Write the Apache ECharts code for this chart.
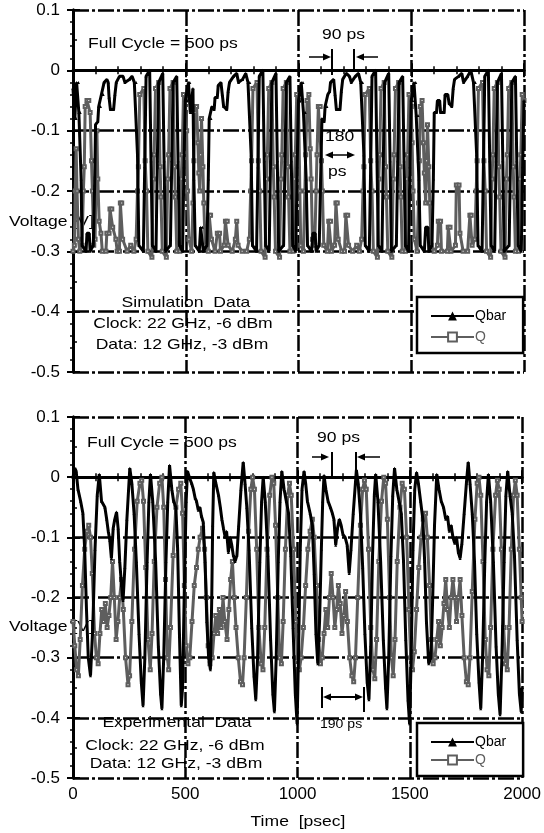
<!DOCTYPE html>
<html>
<head>
<meta charset="utf-8">
<script src="https://cdn.jsdelivr.net/npm/echarts@6/dist/echarts.min.js"></script>
<style>
html,body{margin:0;padding:0;background:#fff;}
#chart{width:544px;height:833px;}
</style>
</head>
<body>
<div id="chart"></div>
<script>
// ---- tick labels ----
const timeTicks = [0, 500, 1000, 1500, 2000];
const voltTicks = [0.1, 0, -0.1, -0.2, -0.3, -0.4, -0.5];
const seriesNames = ['Qbar', 'Q'];

// ---- simulation data (top panel): [time ps, voltage V] ----
const simQbar = [
[0,-0.03],[6,-0.03],[8,-0.08],[14,-0.08],[16,-0.02],[24,-0.02],[26,-0.07],[32,-0.07],[36,-0.18],[40,-0.29],[58,-0.3],[62,-0.27],[72,-0.27],[76,-0.3],[90,-0.29],[96,-0.19],[100,-0.09],[110,-0.085],[114,-0.06],[122,-0.06],[126,-0.04],[134,-0.04],[138,-0.02],[150,-0.015],[156,-0.02],[160,-0.045],[166,-0.065],[180,-0.065],[186,-0.04],[192,-0.02],[206,-0.01],[222,-0.01],[230,-0.02],[250,-0.015],[262,-0.01],[272,-0.02],[280,-0.02],[286,-0.14],[292,-0.29],[312,-0.3],[318,-0.16],[324,-0.01],[340,0],[346,-0.15],[352,-0.29],[368,-0.3],[374,-0.15],[380,-0.02],[398,-0.005],[404,-0.15],[410,-0.3],[432,-0.29],[438,-0.15],[444,-0.02],[460,-0.01],[466,-0.15],[472,-0.29],[486,-0.3],[492,-0.16],[498,-0.05],
[506,-0.05],[512,-0.02],[518,-0.02],[520,-0.07],[528,-0.07],[532,-0.03],[536,-0.18],[542,-0.29],[560,-0.3],[566,-0.26],[574,-0.26],[578,-0.3],[594,-0.29],[600,-0.18],[604,-0.08],[612,-0.08],[616,-0.06],[626,-0.065],[630,-0.045],[640,-0.045],[644,-0.025],[656,-0.02],[662,-0.04],[668,-0.06],[682,-0.065],[688,-0.035],[694,-0.02],[712,-0.01],[726,-0.005],[734,-0.02],[752,-0.015],[766,-0.005],[776,-0.02],[784,-0.02],[790,-0.14],[796,-0.29],[814,-0.3],[820,-0.16],[826,-0.01],[842,0],[848,-0.15],[854,-0.29],[870,-0.3],[876,-0.15],[882,-0.02],[900,-0.005],[906,-0.15],[912,-0.3],[934,-0.29],[940,-0.15],[946,-0.02],[962,-0.01],[968,-0.15],[974,-0.29],[988,-0.3],[994,-0.16],[1000,-0.05],
[1006,-0.05],[1012,-0.02],[1020,-0.02],[1022,-0.07],[1030,-0.07],[1034,-0.18],[1040,-0.29],[1058,-0.3],[1064,-0.27],[1074,-0.27],[1078,-0.3],[1092,-0.29],[1098,-0.18],[1104,-0.08],[1114,-0.085],[1118,-0.06],[1126,-0.06],[1130,-0.04],[1138,-0.035],[1142,-0.02],[1156,-0.015],[1162,-0.04],[1168,-0.065],[1184,-0.065],[1190,-0.035],[1196,-0.015],[1212,-0.005],[1226,-0.01],[1234,-0.02],[1252,-0.01],[1266,-0.005],[1276,-0.02],[1284,-0.02],[1290,-0.14],[1296,-0.29],[1314,-0.3],[1320,-0.16],[1326,-0.01],[1342,0],[1348,-0.15],[1354,-0.29],[1370,-0.3],[1376,-0.15],[1382,-0.02],[1400,-0.005],[1406,-0.15],[1412,-0.3],[1434,-0.29],[1440,-0.15],[1446,-0.02],[1462,-0.01],[1468,-0.15],[1474,-0.29],[1488,-0.3],[1494,-0.16],[1500,-0.05],
[1506,-0.05],[1512,-0.02],[1520,-0.02],[1522,-0.075],[1530,-0.075],[1534,-0.18],[1540,-0.29],[1558,-0.3],[1564,-0.26],[1574,-0.26],[1578,-0.3],[1592,-0.29],[1598,-0.18],[1602,-0.07],[1612,-0.07],[1616,-0.05],[1626,-0.05],[1630,-0.07],[1646,-0.07],[1650,-0.04],[1662,-0.04],[1668,-0.055],[1680,-0.06],[1686,-0.03],[1692,-0.015],[1710,-0.01],[1724,-0.005],[1732,-0.02],[1750,-0.01],[1764,0],[1776,-0.02],[1784,-0.02],[1790,-0.14],[1796,-0.29],[1814,-0.3],[1820,-0.16],[1826,-0.01],[1842,0],[1848,-0.15],[1854,-0.29],[1870,-0.3],[1876,-0.15],[1882,-0.02],[1900,-0.005],[1906,-0.15],[1912,-0.3],[1934,-0.29],[1940,-0.15],[1946,-0.02],[1962,-0.01],[1968,-0.15],[1974,-0.29],[1988,-0.3],[1994,-0.16],[2000,-0.05]
];

const simQ = [
[0,-0.3],[6,-0.29],[10,-0.2],[14,-0.13],[18,-0.2],[24,-0.28],[30,-0.3],[40,-0.29],[46,-0.2],[50,-0.16],[54,-0.06],[62,-0.05],[70,-0.05],[76,-0.07],[82,-0.15],[86,-0.2],[92,-0.29],[98,-0.28],[102,-0.18],[106,-0.1],[110,-0.18],[116,-0.25],[124,-0.27],[130,-0.3],[146,-0.3],[150,-0.27],[160,-0.27],[164,-0.23],[172,-0.23],[176,-0.26],[190,-0.28],[196,-0.3],[206,-0.3],[210,-0.22],[216,-0.22],[220,-0.28],[240,-0.3],[256,-0.29],[270,-0.3],[280,-0.28],[286,-0.2],[290,-0.16],[296,-0.04],[314,-0.03],[320,-0.15],[326,-0.2],[332,-0.3],[350,-0.31],[356,-0.18],[360,-0.14],[366,-0.03],[380,-0.02],[386,-0.16],[390,-0.21],[396,-0.3],[414,-0.31],[420,-0.18],[424,-0.14],[430,-0.03],[444,-0.02],[450,-0.16],[454,-0.21],[460,-0.3],[474,-0.3],[480,-0.18],[484,-0.14],[490,-0.04],[498,-0.05],
[504,-0.1],[508,-0.2],[514,-0.28],[526,-0.3],[532,-0.22],[536,-0.15],[540,-0.07],[548,-0.06],[554,-0.12],[558,-0.17],[562,-0.2],[566,-0.14],[570,-0.08],[576,-0.16],[580,-0.22],[586,-0.29],[600,-0.3],[604,-0.24],[610,-0.24],[614,-0.28],[630,-0.3],[640,-0.27],[650,-0.27],[654,-0.3],[670,-0.29],[676,-0.25],[684,-0.25],[688,-0.29],[706,-0.3],[720,-0.28],[726,-0.25],[732,-0.29],[750,-0.3],[770,-0.3],[782,-0.28],[788,-0.2],[792,-0.15],[798,-0.03],[816,-0.02],[822,-0.15],[828,-0.2],[834,-0.3],[852,-0.31],[858,-0.18],[862,-0.14],[868,-0.03],[882,-0.02],[888,-0.16],[892,-0.21],[898,-0.3],[916,-0.31],[922,-0.18],[926,-0.14],[932,-0.03],[946,-0.02],[952,-0.16],[956,-0.21],[962,-0.3],[976,-0.3],[982,-0.18],[986,-0.14],[992,-0.04],[1000,-0.05],
[1006,-0.2],[1010,-0.29],[1022,-0.3],[1028,-0.2],[1032,-0.14],[1038,-0.05],[1046,-0.04],[1052,-0.13],[1056,-0.18],[1062,-0.28],[1072,-0.29],[1078,-0.2],[1082,-0.14],[1088,-0.06],[1096,-0.06],[1102,-0.15],[1106,-0.2],[1112,-0.29],[1128,-0.3],[1134,-0.25],[1142,-0.25],[1146,-0.3],[1160,-0.29],[1166,-0.22],[1172,-0.22],[1176,-0.28],[1192,-0.3],[1204,-0.3],[1210,-0.24],[1218,-0.24],[1222,-0.29],[1240,-0.3],[1258,-0.29],[1270,-0.3],[1280,-0.28],[1286,-0.2],[1290,-0.16],[1296,-0.04],[1314,-0.03],[1320,-0.15],[1326,-0.2],[1332,-0.3],[1350,-0.31],[1356,-0.18],[1360,-0.14],[1366,-0.03],[1380,-0.02],[1386,-0.16],[1390,-0.21],[1396,-0.3],[1414,-0.31],[1420,-0.18],[1424,-0.14],[1430,-0.03],[1444,-0.02],[1450,-0.16],[1454,-0.21],[1460,-0.3],[1474,-0.3],[1480,-0.18],[1484,-0.14],[1490,-0.04],[1500,-0.06],
[1504,-0.12],[1508,-0.2],[1514,-0.28],[1526,-0.3],[1532,-0.22],[1536,-0.15],[1540,-0.06],[1548,-0.05],[1554,-0.12],[1558,-0.17],[1564,-0.22],[1568,-0.15],[1572,-0.09],[1578,-0.16],[1582,-0.22],[1588,-0.29],[1602,-0.3],[1616,-0.29],[1620,-0.25],[1630,-0.25],[1634,-0.3],[1660,-0.3],[1664,-0.26],[1672,-0.26],[1676,-0.3],[1696,-0.29],[1700,-0.19],[1712,-0.19],[1716,-0.27],[1730,-0.3],[1750,-0.3],[1760,-0.24],[1766,-0.24],[1770,-0.29],[1782,-0.28],[1788,-0.2],[1792,-0.15],[1798,-0.03],[1816,-0.02],[1822,-0.15],[1828,-0.2],[1834,-0.3],[1852,-0.31],[1858,-0.18],[1862,-0.14],[1868,-0.03],[1882,-0.02],[1888,-0.16],[1892,-0.21],[1898,-0.3],[1916,-0.31],[1922,-0.18],[1926,-0.14],[1932,-0.03],[1946,-0.02],[1952,-0.16],[1956,-0.21],[1962,-0.3],[1976,-0.3],[1982,-0.18],[1986,-0.14],[1992,-0.04],[2000,-0.05]
];

// ---- experimental data (bottom panel): [time ps, voltage V] ----
const expQbar = [
[0,0.0],[8,0.015],[14,0.01],[22,-0.02],[34,-0.04],[44,-0.06],[52,-0.12],[60,-0.22],[68,-0.3],[78,-0.33],[88,-0.25],[98,-0.12],[108,-0.03],[117,0.005],[127,-0.04],[142,-0.05],[150,-0.07],[157,-0.09],[164,-0.105],[171,-0.135],[179,-0.085],[186,-0.07],[194,-0.058],[201,-0.085],[208,-0.14],[216,-0.18],[223,-0.205],[231,-0.15],[240,-0.07],[253,0.015],[262,-0.01],[272,-0.06],[282,-0.14],[294,-0.26],[304,-0.34],[312,-0.38],[320,-0.3],[330,-0.14],[338,-0.04],[345,0.005],[355,-0.04],[368,-0.14],[380,-0.28],[390,-0.36],[396,-0.385],[404,-0.3],[414,-0.14],[422,-0.04],[430,0.02],[440,-0.02],[448,-0.04],[458,-0.05],[466,-0.12],[474,-0.26],[482,-0.38],[488,-0.35],[496,-0.18],[504,-0.04],
[510,0.01],[518,0.0],[528,-0.01],[536,-0.02],[544,-0.035],[550,-0.04],[558,-0.055],[565,-0.05],[572,-0.065],[580,-0.075],[588,-0.14],[596,-0.24],[604,-0.3],[612,-0.32],[618,-0.2],[622,-0.08],[627,0.008],[636,-0.01],[648,-0.03],[656,-0.05],[663,-0.07],[670,-0.085],[678,-0.1],[684,-0.09],[692,-0.125],[700,-0.1],[707,-0.113],[714,-0.13],[722,-0.14],[730,-0.13],[738,-0.08],[748,-0.02],[758,0.025],[766,-0.01],[774,-0.05],[784,-0.12],[796,-0.25],[806,-0.33],[814,-0.37],[822,-0.3],[832,-0.14],[840,-0.04],[847,0.0],[856,-0.04],[868,-0.13],[880,-0.27],[890,-0.36],[897,-0.39],[905,-0.3],[914,-0.14],[922,-0.04],[930,0.01],[940,-0.02],[950,-0.04],[960,-0.06],[970,-0.13],[980,-0.25],[990,-0.36],[998,-0.41],[1004,-0.3],[1012,-0.12],[1020,-0.02],
[1029,0.01],[1036,-0.01],[1044,-0.04],[1056,-0.06],[1066,-0.08],[1074,-0.16],[1082,-0.26],[1090,-0.31],[1098,-0.24],[1106,-0.12],[1112,-0.04],[1118,0.003],[1126,-0.02],[1136,-0.04],[1146,-0.05],[1155,-0.06],[1162,-0.07],[1170,-0.113],[1178,-0.085],[1186,-0.07],[1194,-0.08],[1202,-0.095],[1212,-0.1],[1221,-0.113],[1230,-0.16],[1238,-0.12],[1248,-0.06],[1262,0.012],[1270,-0.01],[1280,-0.06],[1290,-0.15],[1300,-0.26],[1310,-0.34],[1318,-0.37],[1326,-0.28],[1334,-0.13],[1342,-0.03],[1348,0.005],[1358,-0.04],[1370,-0.14],[1382,-0.27],[1392,-0.35],[1398,-0.385],[1406,-0.3],[1416,-0.13],[1424,-0.03],[1432,0.015],[1442,-0.02],[1452,-0.04],[1462,-0.06],[1472,-0.14],[1482,-0.27],[1492,-0.37],[1499,-0.41],[1506,-0.3],[1514,-0.12],[1522,-0.02],
[1530,0.008],[1538,-0.01],[1548,-0.04],[1558,-0.07],[1566,-0.14],[1574,-0.24],[1584,-0.31],[1594,-0.3],[1602,-0.2],[1610,-0.08],[1620,0.005],[1630,-0.02],[1640,-0.04],[1650,-0.05],[1660,-0.07],[1668,-0.065],[1676,-0.09],[1684,-0.08],[1692,-0.1],[1700,-0.11],[1708,-0.1],[1716,-0.125],[1724,-0.135],[1732,-0.11],[1742,-0.06],[1752,-0.01],[1760,0.025],[1768,-0.01],[1778,-0.06],[1788,-0.14],[1798,-0.26],[1808,-0.34],[1816,-0.385],[1824,-0.3],[1834,-0.14],[1842,-0.04],[1850,0.005],[1860,-0.04],[1872,-0.14],[1884,-0.28],[1894,-0.36],[1902,-0.395],[1910,-0.3],[1920,-0.14],[1928,-0.03],[1936,0.01],[1946,-0.03],[1956,-0.06],[1966,-0.13],[1978,-0.27],[1988,-0.36],[1996,-0.39],[2000,-0.35]
];

const expQ = [
[0,-0.24],[8,-0.28],[16,-0.32],[24,-0.33],[32,-0.27],[42,-0.18],[52,-0.12],[62,-0.09],[70,-0.08],[78,-0.1],[86,-0.16],[96,-0.26],[104,-0.3],[112,-0.31],[120,-0.26],[128,-0.22],[136,-0.24],[144,-0.21],[152,-0.25],[160,-0.23],[168,-0.2],[176,-0.14],[184,-0.2],[192,-0.27],[200,-0.24],[208,-0.2],[216,-0.17],[224,-0.22],[234,-0.3],[245,-0.345],[252,-0.33],[262,-0.24],[274,-0.12],[286,-0.04],[298,-0.01],[306,-0.005],[314,-0.04],[324,-0.15],[334,-0.27],[344,-0.32],[352,-0.26],[362,-0.14],[374,-0.05],[386,-0.01],[396,0.0],[404,-0.05],[412,-0.17],[420,-0.3],[426,-0.32],[434,-0.25],[446,-0.13],[458,-0.05],[470,-0.02],[480,-0.01],[488,-0.06],[496,-0.18],[504,-0.28],
[512,-0.31],[520,-0.3],[530,-0.24],[540,-0.18],[550,-0.15],[558,-0.12],[566,-0.1],[577,-0.085],[586,-0.12],[594,-0.2],[602,-0.28],[610,-0.31],[620,-0.3],[628,-0.26],[636,-0.23],[644,-0.26],[652,-0.22],[660,-0.25],[668,-0.2],[676,-0.24],[686,-0.27],[694,-0.22],[702,-0.17],[710,-0.14],[718,-0.2],[726,-0.25],[736,-0.3],[746,-0.34],[755,-0.345],[762,-0.3],[772,-0.2],[782,-0.09],[792,-0.02],[800,0.0],[808,-0.02],[818,-0.12],[828,-0.25],[838,-0.31],[846,-0.32],[854,-0.25],[864,-0.12],[876,-0.03],[886,0.0],[894,-0.01],[902,-0.08],[912,-0.2],[920,-0.3],[928,-0.31],[936,-0.24],[946,-0.12],[956,-0.03],[964,-0.01],[972,-0.03],[982,-0.12],[992,-0.24],[1000,-0.3],[1008,-0.32],
[1016,-0.3],[1026,-0.25],[1036,-0.18],[1046,-0.12],[1056,-0.09],[1066,-0.07],[1074,-0.1],[1084,-0.18],[1094,-0.27],[1102,-0.31],[1110,-0.3],[1118,-0.26],[1126,-0.22],[1134,-0.25],[1142,-0.2],[1150,-0.16],[1158,-0.2],[1166,-0.25],[1174,-0.22],[1182,-0.18],[1190,-0.21],[1198,-0.26],[1206,-0.23],[1214,-0.19],[1222,-0.24],[1232,-0.3],[1242,-0.33],[1250,-0.34],[1258,-0.3],[1268,-0.2],[1280,-0.08],[1290,-0.02],[1298,-0.005],[1306,-0.02],[1316,-0.12],[1326,-0.25],[1336,-0.32],[1344,-0.335],[1352,-0.27],[1362,-0.14],[1374,-0.04],[1384,0.0],[1392,-0.01],[1400,-0.07],[1410,-0.2],[1418,-0.3],[1426,-0.33],[1434,-0.27],[1444,-0.14],[1456,-0.05],[1466,-0.01],[1476,-0.02],[1486,-0.1],[1496,-0.22],[1504,-0.3],
[1512,-0.32],[1520,-0.29],[1530,-0.22],[1540,-0.15],[1550,-0.1],[1560,-0.07],[1570,-0.06],[1578,-0.1],[1588,-0.18],[1596,-0.27],[1604,-0.31],[1612,-0.3],[1620,-0.27],[1628,-0.24],[1636,-0.28],[1644,-0.25],[1652,-0.21],[1660,-0.17],[1668,-0.22],[1676,-0.25],[1684,-0.2],[1692,-0.17],[1700,-0.2],[1708,-0.24],[1716,-0.2],[1724,-0.17],[1732,-0.23],[1742,-0.3],[1752,-0.34],[1760,-0.345],[1768,-0.3],[1778,-0.19],[1790,-0.07],[1800,-0.01],[1808,0.0],[1816,-0.03],[1826,-0.14],[1836,-0.27],[1844,-0.32],[1852,-0.33],[1860,-0.25],[1870,-0.12],[1882,-0.03],[1890,-0.005],[1898,-0.02],[1908,-0.12],[1918,-0.25],[1926,-0.31],[1934,-0.32],[1942,-0.25],[1952,-0.12],[1962,-0.03],[1970,-0.005],[1978,-0.03],[1988,-0.12],[1996,-0.2],[2000,-0.24]
];

// ---- styling ----
const FONT = "'Liberation Sans', Arial, Helvetica, sans-serif";
const BLACK = '#000000';
const GRAY = '#5e5e5e';
const gridDash = [16, 3, 3, 3];
const SX = 1.17; // horizontal stretch of the original lettering

const chart = echarts.init(document.getElementById('chart'), null, {renderer: 'canvas'});

function xAxisFor(gi, showLabels) {
  return [{
    type: 'value', gridIndex: gi, min: timeTicks[0], max: timeTicks[timeTicks.length - 1], interval: 500,
    axisLine: {show: true, lineStyle: {color: BLACK, width: 3}},
    axisTick: {show: true, inside: true, length: 7, lineStyle: {color: BLACK, width: 2}},
    minorTick: {show: true, splitNumber: 5, length: 4, lineStyle: {color: BLACK, width: 1.5}},
    axisLabel: {show: showLabels, color: BLACK, fontSize: 17, fontFamily: FONT, margin: 8,
      formatter: v => timeTicks.indexOf(v) >= 0 ? String(v) : ''},
    splitLine: {show: true, lineStyle: {color: BLACK, width: 2.5, type: gridDash}}
  }, {
    type: 'value', gridIndex: gi, position: 'top', min: timeTicks[0], max: timeTicks[timeTicks.length - 1], interval: 500,
    axisLine: {show: true, lineStyle: {color: BLACK, width: 2.5}},
    axisTick: {show: true, inside: true, length: 7, lineStyle: {color: BLACK, width: 2}},
    minorTick: {show: true, splitNumber: 5, length: 4, lineStyle: {color: BLACK, width: 1.5}},
    axisLabel: {show: false}, splitLine: {show: false}
  }];
}
function yAxisFor(gi) {
  return [{
    type: 'value', gridIndex: gi, min: -0.5, max: 0.1, interval: 0.1,
    axisLine: {show: true, lineStyle: {color: BLACK, width: 3}},
    axisTick: {show: true, inside: true, length: 7, lineStyle: {color: BLACK, width: 2}},
    minorTick: {show: true, splitNumber: 2, length: 4, lineStyle: {color: BLACK, width: 1.5}},
    axisLabel: {color: BLACK, fontSize: 17, fontFamily: FONT, margin: 13,
      formatter: v => { const r = Math.round(v * 10) / 10; const t = voltTicks.find(k => Math.abs(k - r) < 1e-9); return t === 0 ? '0' : t.toFixed(1); }},
    splitLine: {show: true, lineStyle: {color: BLACK, width: 2.5, type: gridDash}}
  }, {
    type: 'value', gridIndex: gi, position: 'right', min: -0.5, max: 0.1, interval: 0.1,
    axisLine: {show: true, lineStyle: {color: BLACK, width: 3}},
    axisTick: {show: true, inside: true, length: 6, lineStyle: {color: BLACK, width: 2}},
    minorTick: {show: true, splitNumber: 5, length: 3, lineStyle: {color: BLACK, width: 1.5}},
    axisLabel: {show: false}, splitLine: {show: false}
  }];
}

function lineSeries(name, data, xi, yi, isQbar) {
  return {
    name: name, type: 'line', data: data, xAxisIndex: xi, yAxisIndex: yi,
    symbol: isQbar ? 'triangle' : 'emptyRect', symbolSize: 3, showSymbol: true,
    lineStyle: {color: isQbar ? BLACK : GRAY, width: 3},
    itemStyle: {color: isQbar ? BLACK : GRAY, borderColor: isQbar ? BLACK : GRAY, borderWidth: isQbar ? 0 : 1},
    z: isQbar ? 4 : 3, clip: true, animation: false
  };
}

function legendAt(top, gap) {
  return {
    orient: 'vertical', left: 417, top: top,
    data: [{name: seriesNames[0], textStyle: {color: BLACK}}, {name: seriesNames[1], textStyle: {color: GRAY}}],
    borderColor: BLACK, borderWidth: 2.5, backgroundColor: '#fff',
    padding: [12, 17, 9, 13], itemGap: gap, itemWidth: 43, itemHeight: 11,
    textStyle: {fontSize: 14, fontFamily: FONT, padding: [0, 0, 0, -4]},
    selectedMode: false
  };
}

function txt(x, y, s, size, align, color) {
  return {type: 'text', x: x, y: y, z: 10, scaleX: SX,
    style: {text: s, fill: color || BLACK, font: (size || 15) + 'px ' + FONT, textAlign: align || 'left', textVerticalAlign: 'middle'}};
}
function ln(x1, y1, x2, y2, w) {
  return {type: 'line', z: 10, shape: {x1: x1, y1: y1, x2: x2, y2: y2}, style: {stroke: BLACK, lineWidth: w || 1.5}};
}
function head(x, y, dir) {
  return {type: 'polygon', z: 10, shape: {points: [[x, y], [x - dir * 8, y - 3.5], [x - dir * 8, y + 3.5]]}, style: {fill: BLACK}};
}

const xs0 = xAxisFor(0, false), xs1 = xAxisFor(1, true);
const ys0 = yAxisFor(0), ys1 = yAxisFor(1);

const option = {
  backgroundColor: '#ffffff',
  animation: false,
  grid: [
    {left: 73, top: 10, width: 451, height: 362, show: false},
    {left: 73, top: 417, width: 451, height: 361, show: false}
  ],
  xAxis: [xs0[0], xs0[1], xs1[0], xs1[1]],
  yAxis: [ys0[0], ys0[1], ys1[0], ys1[1]],
  legend: [legendAt(297, 7), legendAt(723, 4)],
  series: [
    lineSeries(seriesNames[1], simQ, 0, 0, false),
    lineSeries(seriesNames[0], simQbar, 0, 0, true),
    lineSeries(seriesNames[1], expQ, 2, 2, false),
    lineSeries(seriesNames[0], expQbar, 2, 2, true)
  ],
  graphic: [
    // y-axis titles (drawn beneath the traces)
    {type: 'text', x: 9, y: 222, z: 0, scaleX: SX, style: {text: 'Voltage [V]', fill: BLACK, font: '15px ' + FONT, textVerticalAlign: 'middle'}},
    {type: 'text', x: 9, y: 627, z: 0, scaleX: SX, style: {text: 'Voltage [V]', fill: BLACK, font: '15px ' + FONT, textVerticalAlign: 'middle'}},
    // x-axis title
    txt(298, 822, 'Time  [psec]', 15, 'center'),
    // top panel annotations
    txt(88, 44, 'Full Cycle = 500 ps', 15),
    txt(322, 35, '90 ps', 15),
    ln(309, 57, 324, 57), head(331, 57, 1),
    ln(332, 49, 332, 75, 2),
    ln(354, 49, 354, 72, 2),
    ln(363, 57, 378, 57), head(356, 57, -1),
    txt(325, 137, '180', 15),
    ln(332, 155, 348, 155), head(325, 155, -1), head(355, 155, 1),
    txt(328, 172, 'ps', 15),
    txt(186, 303, 'Simulation  Data', 15, 'center'),
    txt(183, 324, 'Clock: 22 GHz, -6 dBm', 15, 'center'),
    txt(182, 345, 'Data: 12 GHz, -3 dBm', 15, 'center'),
    // bottom panel annotations
    txt(87, 443, 'Full Cycle = 500 ps', 15),
    txt(317, 438, '90 ps', 15),
    ln(312, 457, 322, 457), head(329, 457, 1),
    ln(332, 452, 332, 476, 2),
    ln(356, 452, 356, 476, 2),
    ln(364, 457, 380, 457), head(357, 457, -1),
    ln(322, 687, 322, 708, 2),
    ln(364, 687, 364, 712, 2),
    ln(330, 697, 356, 697, 2), head(323, 697, -1), head(363, 697, 1),
    txt(320, 725, '190 ps', 12),
    txt(177, 723, 'Experimental  Data', 15, 'center'),
    txt(175, 746, 'Clock: 22 GHz, -6 dBm', 15, 'center'),
    txt(176, 764, 'Data: 12 GHz, -3 dBm', 15, 'center')
  ]
};

chart.setOption(option);
</script>
</body>
</html>
